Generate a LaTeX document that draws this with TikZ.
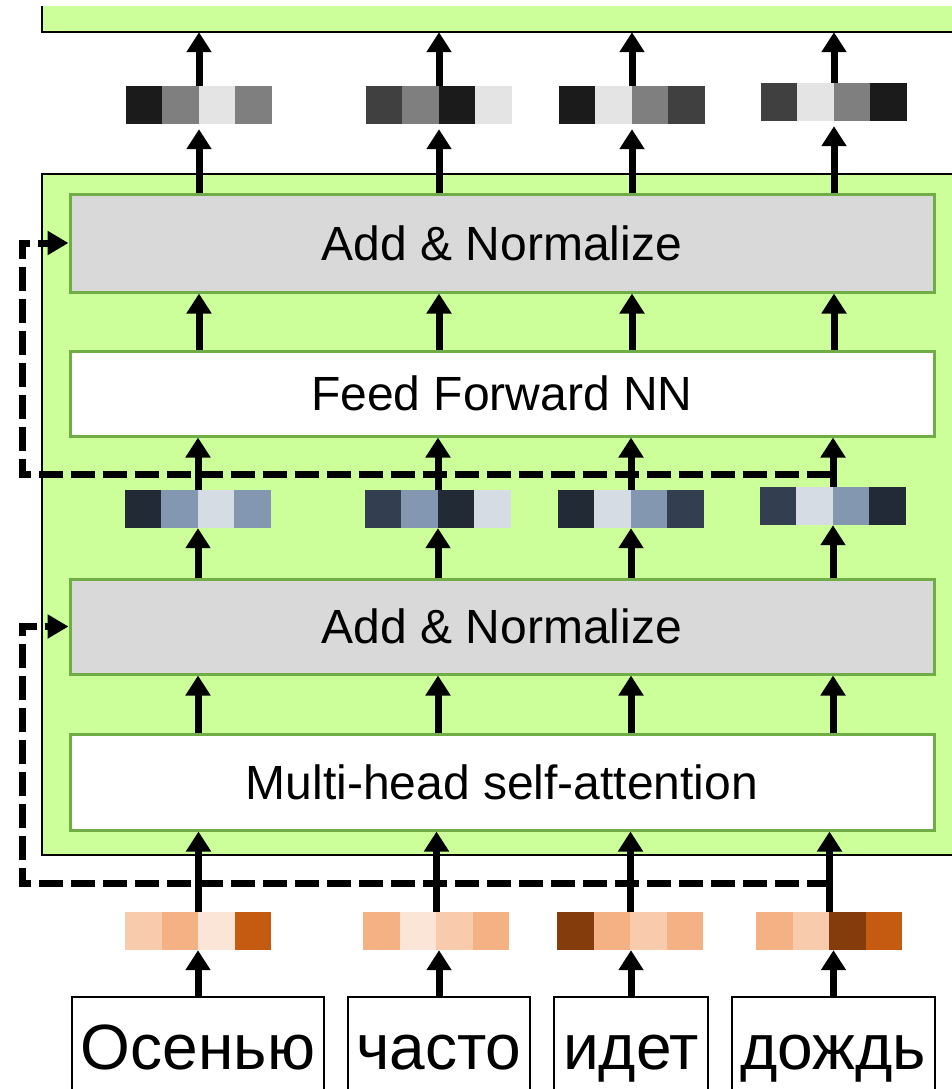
\documentclass[tikz,border=0pt]{standalone}
\usepackage{fontspec}
\setmainfont{Liberation Sans}
\usetikzlibrary{arrows.meta}

\definecolor{encgreen}{HTML}{CCFF99}
\definecolor{boxline}{HTML}{70AD47}
\definecolor{normgray}{HTML}{D9D9D9}
\definecolor{ga}{HTML}{1B1B1B}
\definecolor{gb}{HTML}{404040}
\definecolor{gc}{HTML}{7F7F7F}
\definecolor{gd}{HTML}{E4E4E4}
\definecolor{ba}{HTML}{222A35}
\definecolor{bb}{HTML}{333F50}
\definecolor{bc}{HTML}{8497B0}
\definecolor{bd}{HTML}{D6DCE4}
\definecolor{oa}{HTML}{843C0C}
\definecolor{ob}{HTML}{C55A11}
\definecolor{oc}{HTML}{F4B183}
\definecolor{od}{HTML}{F8CBAD}
\definecolor{oe}{HTML}{FBE5D6}

\tikzset{
  layer/.style={draw=boxline, line width=3pt, minimum width=864pt,
    inner sep=0pt, font=\fontsize{48}{56}\selectfont},
  vecbox/.style={minimum width=146pt, minimum height=38pt, inner sep=0pt},
  token/.style={draw, line width=2pt, anchor=north, inner sep=0pt,
    text height=72pt, text depth=32pt, font=\fontsize{64}{72}\selectfont},
  flow/.style={line width=7pt, -{Triangle[width=24pt,length=20pt]}},
  resid/.style={line width=7pt, dash pattern=on 24pt off 8pt,
    -{Triangle[width=23pt,length=21pt]}},
}

\newcommand{\embvec}[4]{%
  \node[vecbox] (#1) at (#2,#3) {};
  \foreach \col [count=\k from 0] in {#4}
    \fill[\col] ([xshift=\k*36.5pt]#1.north west) rectangle ++(36.5,38);
}

\begin{document}
\begin{tikzpicture}[x=1pt, y=-1pt]
  \useasboundingbox (0,0) rectangle (951,1089);

  % next encoder
  \node[fill=encgreen, minimum width=918pt, minimum height=26pt, inner sep=0pt]
    (next) at (501,19) {};
  \draw[line width=2pt] (next.north west) -- (next.south west) -- (next.south east);

  % encoder block
  \node[draw, fill=encgreen, line width=2pt, minimum width=918pt,
    minimum height=681pt, inner sep=0pt] (enc) at (501,514.5) {};
  \node[layer, fill=normgray, minimum height=98pt] (addtop) at (502,243) {Add \& Normalize};
  \node[layer, fill=white, minimum height=85pt] (ffn) at (502,393.5) {Feed Forward NN};
  \node[layer, fill=normgray, minimum height=95pt] (addbot) at (502,626.5) {Add \& Normalize};
  \node[layer, fill=white, minimum height=96pt] (mhsa) at (502,782) {Multi-head self-attention};

  % vectors
  \embvec{t1}{199}{105}{ga,gc,gd,gc}
  \embvec{t2}{439}{105}{gb,gc,ga,gd}
  \embvec{t3}{632}{105}{ga,gd,gc,gb}
  \embvec{t4}{834}{102}{gb,gd,gc,ga}
  \embvec{m1}{198}{509}{ba,bc,bd,bc}
  \embvec{m2}{438}{509}{bb,bc,ba,bd}
  \embvec{m3}{631}{509}{ba,bd,bc,bb}
  \embvec{m4}{833}{506}{bb,bd,bc,ba}
  \embvec{i1}{198.5}{931}{od,oc,oe,ob}
  \embvec{i2}{436.5}{931}{oc,oe,od,oc}
  \embvec{i3}{630.5}{931}{oa,oc,od,oc}
  \embvec{i4}{829.5}{931}{oc,od,oa,ob}

  % words
  \node[token, minimum width=252pt] (w1) at (198,996) {Осенью};
  \node[token, minimum width=182pt] (w2) at (439,996) {часто};
  \node[token, minimum width=154pt] (w3) at (631,996) {идет};
  \node[token, minimum width=203pt] (w4) at (833.5,996) {дождь};

  % residual connections
  \coordinate (tap1) at (831,474);
  \coordinate (tap2) at (831,883);
  \draw[resid] (tap1) -- (22,474) |- (addtop.west);
  \draw[resid] (tap2) -- (22,883) |- (addbot.west);

  % arrows
  \draw[flow] (w1.north) -- (w1.north |- i1.south);
  \draw[flow] (w2.north) -- (w2.north |- i2.south);
  \draw[flow] (w3.north) -- (w3.north |- i3.south);
  \draw[flow] (w4.north) -- (w4.north |- i4.south);
  \draw[flow] (i1.north) -- (i1.north |- mhsa.south);
  \draw[flow] (i2.north) -- (i2.north |- mhsa.south);
  \draw[flow] (i3.north) -- (i3.north |- mhsa.south);
  \draw[flow] (i4.north) -- (i4.north |- mhsa.south);
  \draw[flow] (mhsa.north -| m1) -- (addbot.south -| m1);
  \draw[flow] (mhsa.north -| m2) -- (addbot.south -| m2);
  \draw[flow] (mhsa.north -| m3) -- (addbot.south -| m3);
  \draw[flow] (mhsa.north -| m4) -- (addbot.south -| m4);
  \draw[flow] (addbot.north -| m1) -- (m1.south);
  \draw[flow] (addbot.north -| m2) -- (m2.south);
  \draw[flow] (addbot.north -| m3) -- (m3.south);
  \draw[flow] (addbot.north -| m4) -- (m4.south);
  \draw[flow] (m1.north) -- (m1.north |- ffn.south);
  \draw[flow] (m2.north) -- (m2.north |- ffn.south);
  \draw[flow] (m3.north) -- (m3.north |- ffn.south);
  \draw[flow] (m4.north) -- (m4.north |- ffn.south);
  \draw[flow] (ffn.north -| t1) -- (addtop.south -| t1);
  \draw[flow] (ffn.north -| t2) -- (addtop.south -| t2);
  \draw[flow] (ffn.north -| t3) -- (addtop.south -| t3);
  \draw[flow] (ffn.north -| t4) -- (addtop.south -| t4);
  \draw[flow, shorten >=5pt] (addtop.north -| t1) -- (t1.south);
  \draw[flow, shorten >=5pt] (addtop.north -| t2) -- (t2.south);
  \draw[flow, shorten >=5pt] (addtop.north -| t3) -- (t3.south);
  \draw[flow, shorten >=5pt] (addtop.north -| t4) -- (t4.south);
  \draw[flow] (t1.north) -- (t1.north |- next.south);
  \draw[flow] (t2.north) -- (t2.north |- next.south);
  \draw[flow] (t3.north) -- (t3.north |- next.south);
  \draw[flow] (t4.north) -- (t4.north |- next.south);
\end{tikzpicture}
\end{document}
